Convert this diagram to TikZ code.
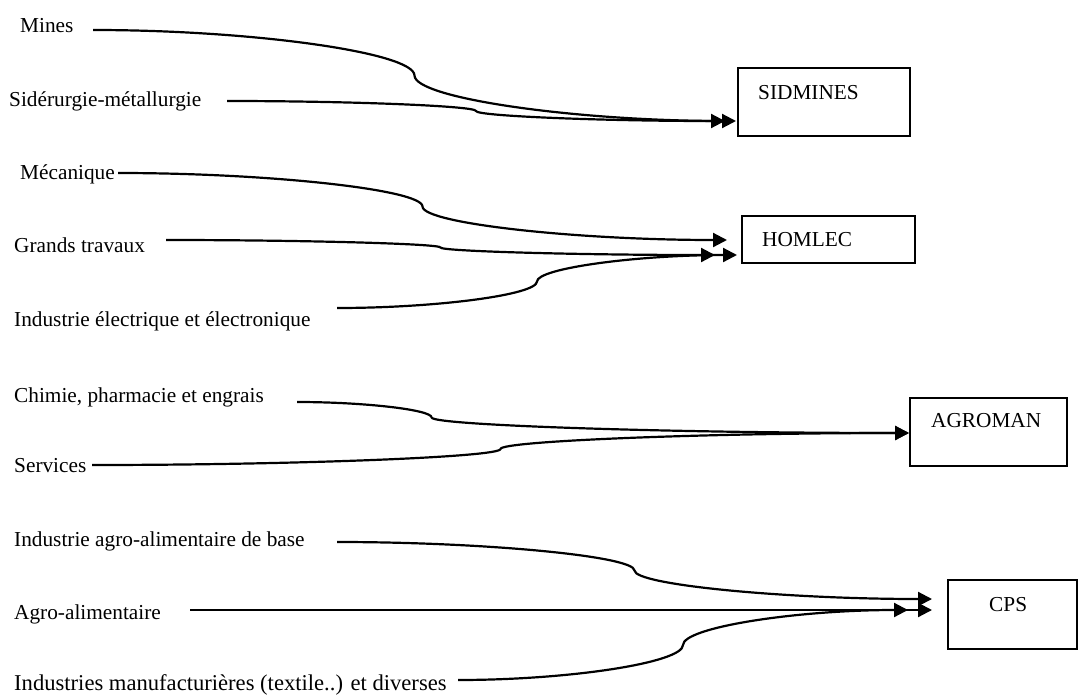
\documentclass[tikz,border=0pt]{standalone}
\usepackage{fontspec}
\setmainfont{Liberation Serif}
\usetikzlibrary{arrows.meta,calc}
\def\cadj{0.5}
\tikzset{
  lbl/.style={anchor=base west, inner sep=0pt, font=\fontsize{21.3}{25}\selectfont},
  box/.style={draw, line width=2.4pt, inner sep=0pt, anchor=north west},
  feed/.style={line width=2.2pt, -{Triangle[length=14pt,width=14pt]}},
  split/.code={\def\cadj{#1}},
  % S-shaped connector: horizontal start, vertical tangent at the split point, horizontal end
  elbow/.style={to path={
    let \p1=(\tikztostart), \p2=(\tikztotarget),
        \p3=({\x1+\cadj*(\x2-\x1)},{(\y1+\y2)/2}) in
    .. controls ({(\x1+\x3)/2},\y1) and (\x3,{(3*\y1+\y2)/4}) .. (\p3)
    .. controls (\x3,{(\y1+3*\y2)/4}) and ({(\x3+\x2)/2},\y2) .. (\p2)}},
}
\begin{document}
\begin{tikzpicture}[x=1pt,y=-1pt]
\useasboundingbox (0,0) rectangle (1092,696);

% target boxes
\node[box, minimum width=172pt, minimum height=68pt] (sid) at (737,67) {};
\node[box, minimum width=173pt, minimum height=47pt] (hom) at (741,215) {};
\node[box, minimum width=157pt, minimum height=68pt] (agr) at (909,397) {};
\node[box, minimum width=129pt, minimum height=69pt] (cps) at (947,579) {};
\node[lbl] (tsid) at (758,99) {SIDMINES};
\node[lbl] (thom) at (762,246) {HOMLEC};
\node[lbl] (tagr) at (931,427) {AGROMAN};
\node[lbl] (tcps) at (989,611) {CPS};

% sector labels
\node[lbl] (lmines) at (20,32) {Mines};
\node[lbl] (lsid) at (9,106) {Sidérurgie-métallurgie};
\node[lbl] (lmeca) at (20,179) {Mécanique};
\node[lbl] (lgt) at (14,252) {Grands travaux};
\node[lbl] (liee) at (14,326) {Industrie électrique et électronique};
\node[lbl] (lchim) at (14,402) {Chimie, pharmacie et engrais};
\node[lbl] (lserv) at (14,472) {Services};
\node[lbl] (liaab) at (14,546) {Industrie agro-alimentaire de base};
\node[lbl] (laa) at (14,619) {Agro-alimentaire};
\node[lbl, font=\fontsize{22.6}{26}\selectfont] (limd) at (14,690) {Industries manufacturières (textile..) et diverses};

% connector ends
\coordinate (mines) at (93,30);
\coordinate (siderurgie) at (227,101);
\coordinate (sidA) at (736,121);
\coordinate (sidB) at (725,121);
\coordinate (meca) at (118,173);
\coordinate (gt) at (166,240);
\coordinate (iee) at (337,308);
\coordinate (homA) at (727,240);
\coordinate (homB) at (715,255);
\coordinate (homC) at (737,255);
\coordinate (chim) at (297,402);
\coordinate (serv) at (92,465);
\coordinate (agrA) at (909,433);
\coordinate (iaab) at (337,542);
\coordinate (aa) at (190,610);
\coordinate (imd) at (458,680);
\coordinate (cpsA) at (932,599);
\coordinate (cpsB) at (932,610);
\coordinate (cpsC) at (908,610);

% connectors
\draw[feed] (mines) to[elbow] (sidA);
\draw[feed] (siderurgie) to[elbow] (sidB);
\draw[feed] (meca) to[elbow] (homA);
\draw[feed] (gt) to[elbow] (homB);
\draw[feed] (iee) to[elbow] (homC);
\draw[feed, split=0.22] (chim) to[elbow] (agrA);
\draw[feed] (serv) to[elbow] (agrA);
\draw[feed] (iaab) to[elbow] (cpsA);
\draw[feed] (aa) to[elbow] (cpsB);
\draw[feed] (imd) to[elbow] (cpsC);
\end{tikzpicture}
\end{document}
